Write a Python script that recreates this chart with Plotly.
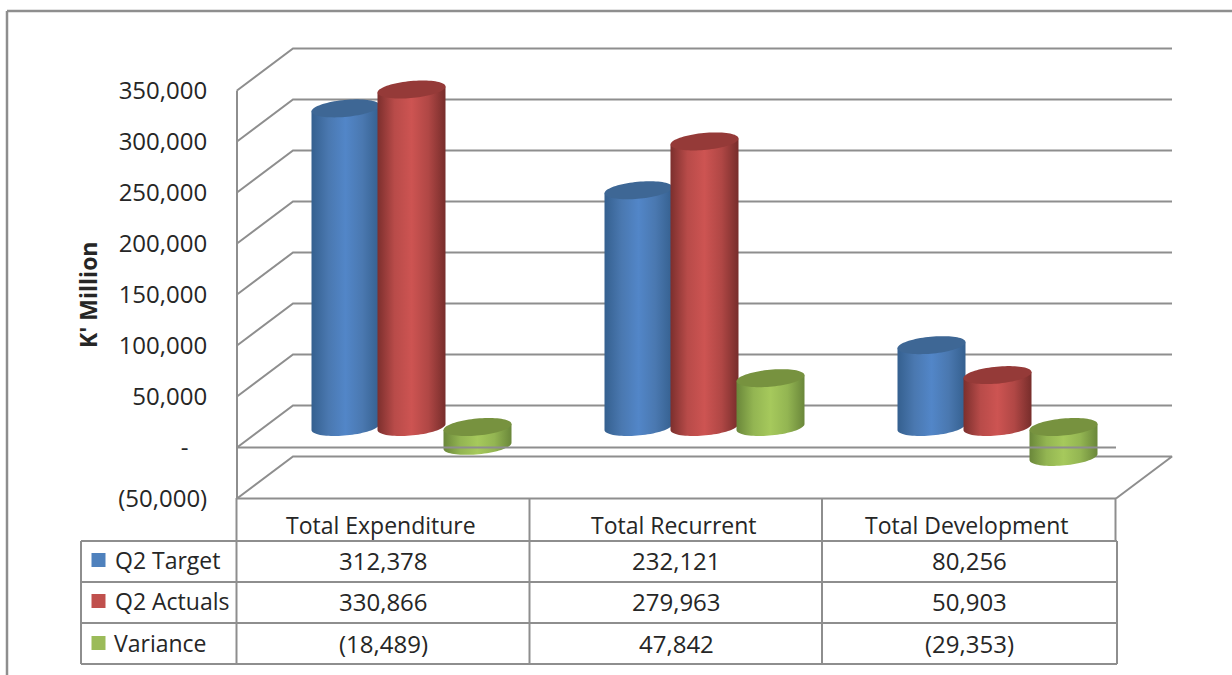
import numpy as np
import plotly.graph_objects as go

categories = ["Total Expenditure", "Total Recurrent", "Total Development"]
series_names = ["Q2 Target", "Q2 Actuals", "Variance"]
q2_target = [312378, 232121, 80256]
q2_actuals = [330866, 279963, 50903]
variance = [-18489, 47842, -29353]
tick_values = [-50000, 0, 50000, 100000, 150000, 200000, 250000, 300000, 350000]
tick_labels = ["(50,000)", "-\u00a0\u00a0\u00a0", "50,000", "100,000", "150,000",
               "200,000", "250,000", "300,000", "350,000"]

series = [q2_target, q2_actuals, variance]
key_colors = ["#4f81bd", "#c0504d", "#9bbb59"]
cap_colors = ["#3e6795", "#953a38", "#77923f"]
ramps = [
    ["#35608f", "#4a78b0", "#5286c8", "#4a78b0", "#35608f"],
    ["#7c2f2d", "#b84b49", "#cd5452", "#b04745", "#772d2b"],
    ["#6a873a", "#93b552", "#a6c95c", "#93b552", "#6a873a"],
]

W, H = 1232, 675
PX0, PXU = 383.5, 293.0     # pixel of column 0, pixels per column
PY0, PYU = 447.5, 51.0 / 50000  # pixel of value 0, pixels per unit
GRID = "#8e8e8e"
TEXT = "#262626"
FONT = "'Open Sans', Lato, sans-serif"

def px_x(p):
    return (p - PX0) / PXU

def px_dx(p):
    return p / PXU

def px_dy(p):
    return p / PYU

DX, DY = px_dx(56), px_dy(42)
LEFT, RIGHT = -0.5, 2.5
SLOT = px_dx(66)
RX, RY, TILT = px_dx(34), px_dy(8.5), px_dy(3)

def fmt(v):
    return f"({abs(v):,})" if v < 0 else f"{v:,}"

fig = go.Figure()

def line(xs, ys, width=2, color=GRID):
    fig.add_trace(go.Scatter(x=xs, y=ys, mode="lines", line=dict(color=color, width=width),
                             hoverinfo="skip", showlegend=False))

# back wall and side wall gridlines
for v in tick_values[2:]:
    line([LEFT, LEFT + DX, RIGHT + DX], [v, v + DY, v + DY])
line([LEFT, LEFT], [tick_values[0], tick_values[-1]])
# floor at zero (back), lower plane
line([LEFT, LEFT + DX, RIGHT + DX], [0, DY, DY])
v0 = tick_values[0]
line([LEFT, LEFT + DX, RIGHT + DX, RIGHT], [v0, v0 + DY, v0 + DY, v0])
line([LEFT, RIGHT], [v0, v0])

# cylinders
t_lower = np.linspace(np.pi, 0, 40)  # front half of an ellipse
t_full = np.linspace(0, 2 * np.pi, 80)
for c in range(len(categories)):
    for s, vals in enumerate(series):
        cx = c + DX / 2 + (s - 1) * SLOT
        base = DY / 2 - px_dy(0.5)
        top = base + vals[c]
        hi, lo = max(base, top), min(base, top)
        # upper rim (back half traversed from right to left) closes the body
        xl = cx + RX * np.cos(t_lower)
        yl = lo - RY * np.sin(t_lower) + TILT * np.cos(t_lower)
        xu = cx + RX * np.cos(t_lower)
        yu = hi + TILT * np.cos(t_lower)
        fig.add_trace(go.Scatter(
            x=np.concatenate([xl, xu[::-1]]), y=np.concatenate([yl, yu[::-1]]),
            mode="none", fill="toself",
            fillgradient=dict(type="horizontal",
                              colorscale=[[i / 4, col] for i, col in enumerate(ramps[s])]),
            hoverinfo="skip", showlegend=False))
        fig.add_trace(go.Scatter(
            x=cx + RX * np.cos(t_full),
            y=hi + RY * np.sin(t_full) + TILT * np.cos(t_full),
            mode="none", fill="toself", fillcolor=cap_colors[s],
            hoverinfo="skip", showlegend=False))

# front edge of the zero plane, in front of the cylinders
line([LEFT, RIGHT], [0, 0])

# legend keys in the data table
row_px = [560, 601, 643]
header_px = 525
def py(p):
    return (PY0 - p) / PYU

for s, name in enumerate(series_names):
    fig.add_trace(go.Scatter(x=[px_x(98.5)], y=[py(row_px[s])], mode="markers",
                             marker=dict(symbol="square", size=14, color=key_colors[s]),
                             name=name, hoverinfo="skip", showlegend=False))

annotations = []
def note(x, y, text, **kw):
    annotations.append(dict(x=x, y=y, xref="x", yref="y", text=text, showarrow=False,
                            font=dict(family=FONT, size=kw.pop("size", 23), color=TEXT,
                                      weight=kw.pop("weight", "normal")), **kw))

for c, cat in enumerate(categories):
    note(c - 0.01, py(header_px), cat)
    for s, vals in enumerate(series):
        note(c, py(row_px[s]), fmt(vals[c]), size=24)
for s, name in enumerate(series_names):
    note(px_x(112.5 if s < 2 else 111.5), py(row_px[s]), name, xanchor="left")
note(px_x(88), py(295), "K' Million", textangle=-90, size=23, weight="bold")

# chart frame and data table rules
def rule(x0, y0, x1, y1, width=2):
    return dict(type="line", xref="paper", yref="paper", x0=x0 / W, x1=x1 / W,
                y0=1 - y0 / H, y1=1 - y1 / H, line=dict(color=GRID, width=width), layer="above")

shapes = [rule(7, 11, W, 11, 2.5), rule(7, 11, 7, H, 2.5)]
for p in [541, 582, 623, 664]:
    shapes.append(rule(81, p, 1117, p))
for p in [81, 236.5, 529.5, 822, 1117]:
    shapes.append(rule(p, 541, p, 664))
for p in [236.5, 529.5, 822, 1115.5]:
    shapes.append(rule(p, 498, p, 541))

fig.update_layout(
    width=W, height=H, autosize=False, margin=dict(l=0, r=0, t=0, b=0, pad=0),
    paper_bgcolor="white", plot_bgcolor="white", showlegend=False,
    xaxis=dict(range=[px_x(0), px_x(W)], domain=[0, 1], visible=False, fixedrange=True),
    yaxis=dict(range=[py(H), py(0)], domain=[0, 1], anchor="free", position=237 / W,
               showgrid=False, zeroline=False, showline=False, fixedrange=True,
               tickmode="array", tickvals=tick_values, ticktext=tick_labels,
               ticks="outside", ticklen=25, tickcolor="rgba(0,0,0,0)",
               tickfont=dict(family=FONT, size=24, color=TEXT)),
    shapes=shapes, annotations=annotations,
)
fig.write_html("out.html", config=dict(displayModeBar=False),
               post_script="document.body.style.margin='0';document.documentElement.style.overflow='hidden';")
